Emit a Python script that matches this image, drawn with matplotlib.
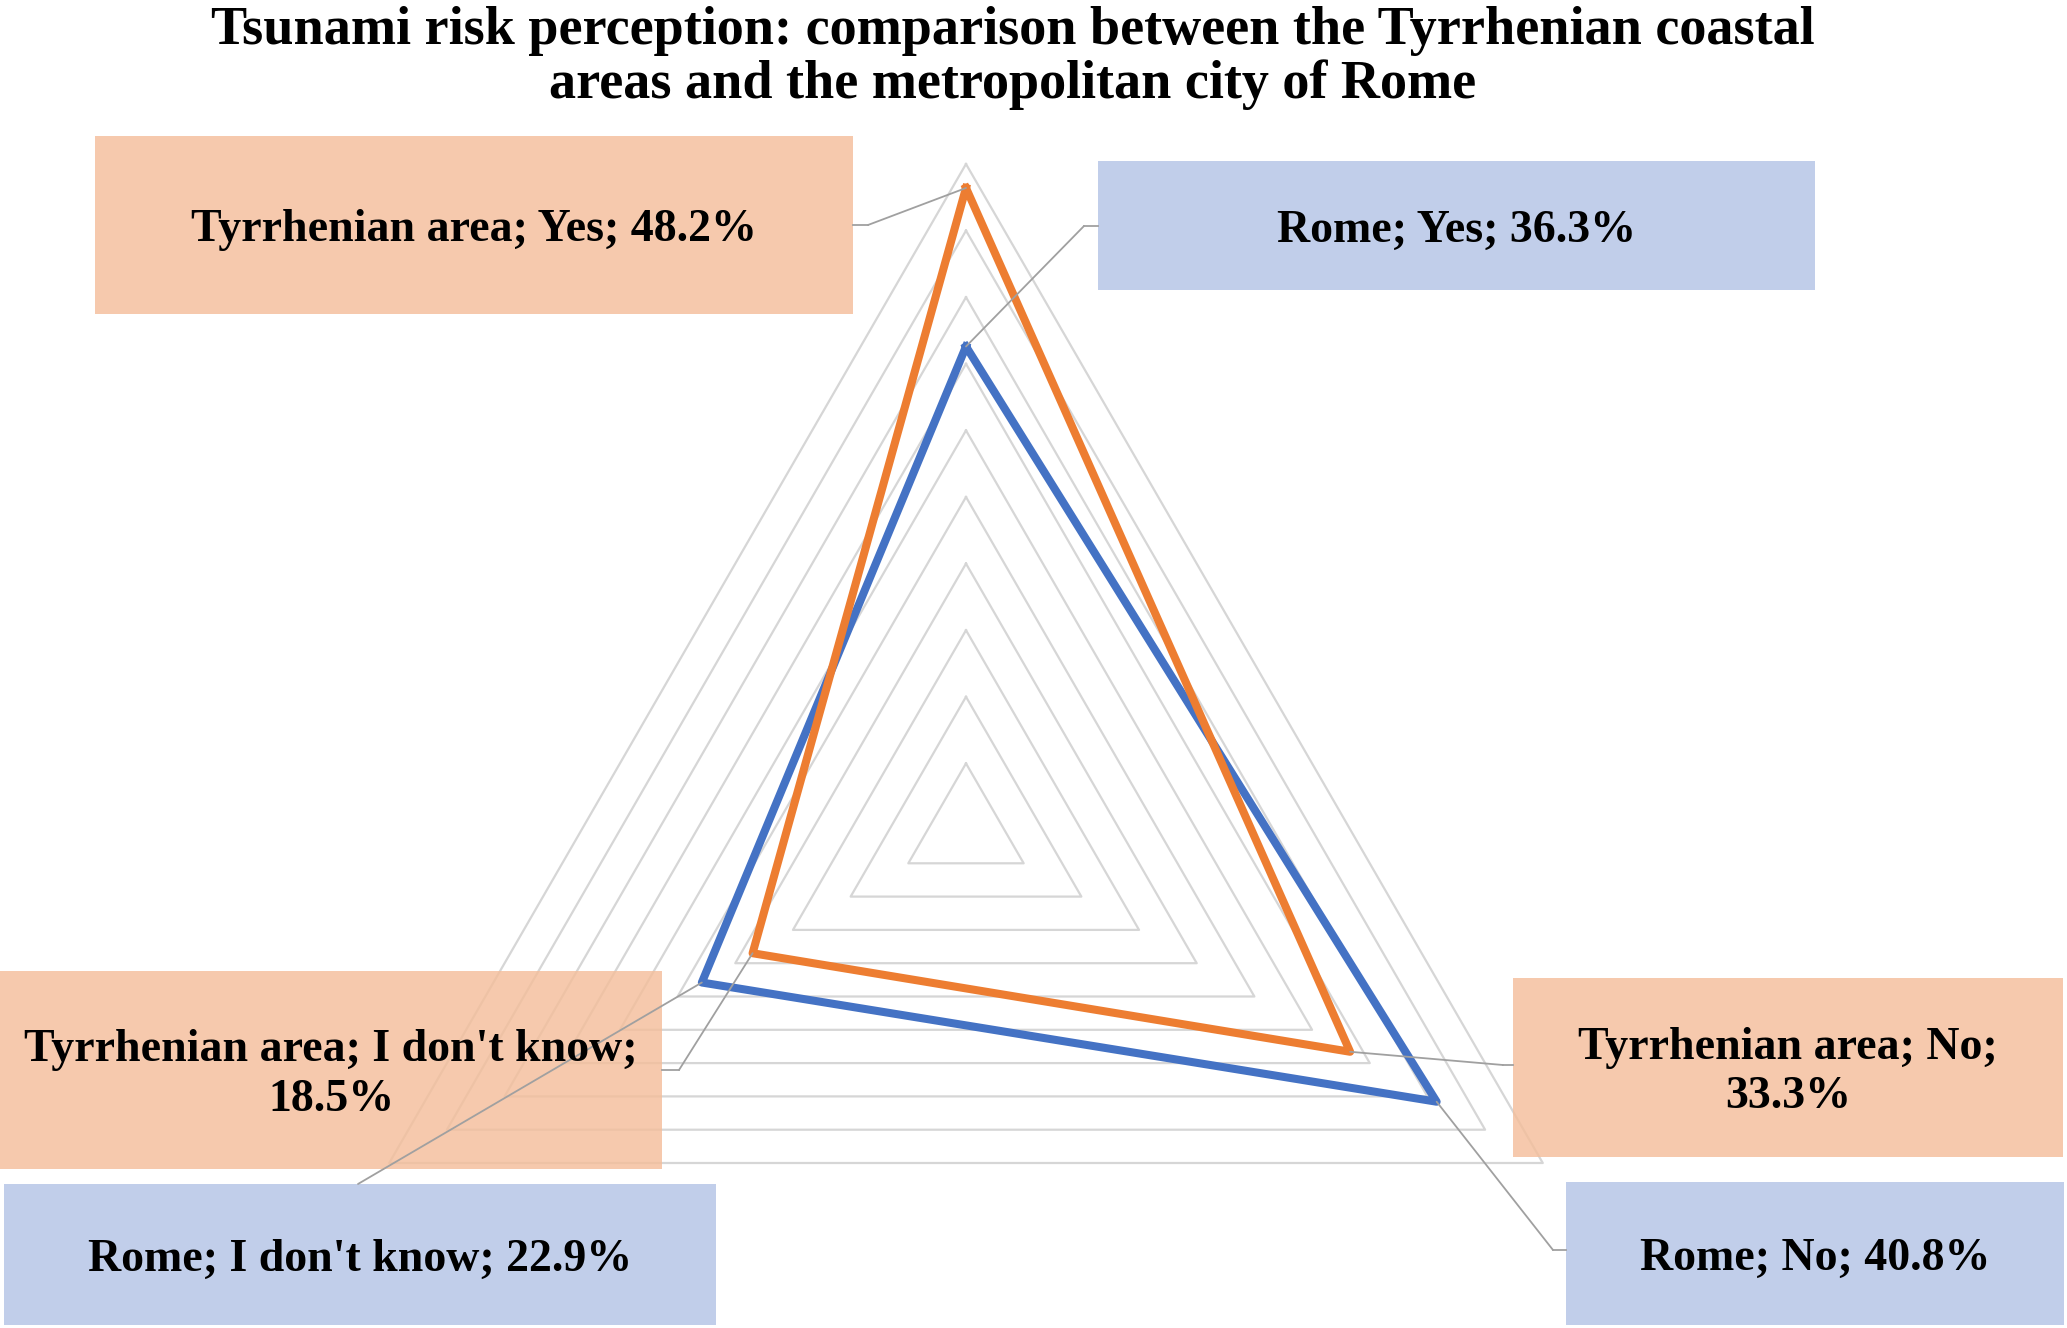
import numpy as np
import matplotlib
matplotlib.use("Agg")
import matplotlib.pyplot as plt
from matplotlib.patches import Rectangle, ConnectionPatch
from matplotlib.lines import Line2D

# --- datos ---
categories = ["Yes", "No", "I don't know"]
tyrrhenian = [48.2, 33.3, 18.5]
rome = [36.3, 40.8, 22.9]
series_names = ["Tyrrhenian area", "Rome"]
r_max = 50
r_step = 5

title = ("Tsunami risk perception: comparison between the Tyrrhenian coastal\n"
         "areas and the metropolitan city of Rome")

W, H = 2067, 1328
plt.rcParams['font.family'] = ['Liberation Serif', 'DejaVu Serif']

fig = plt.figure(figsize=(W / 100, H / 100), dpi=100)

def fx(x):
    return x / W

def fy(y):
    return 1 - y / H

# posicion del radar (centro y radio en pixeles)
cx, cy, R = 966, 830, 666
ax = fig.add_axes([fx(cx - R), fy(cy + R), 2 * R / W, 2 * R / H], projection='polar')
ax.set_theta_zero_location('N')
ax.set_theta_direction(-1)
ax.set_ylim(0, r_max)
ax.axis('off')

angles = np.arange(len(categories)) * 2 * np.pi / len(categories)
closed = np.append(angles, angles[0])

# rejilla triangular
for r in np.arange(r_step, r_max + 0.1, r_step):
    ax.plot(closed, [r] * len(closed), color='#D6D6D6', lw=1.6, clip_on=False, zorder=1)

colors = {"Tyrrhenian area": '#ED7D31', "Rome": '#4472C4'}
ax.plot(closed, rome + rome[:1], color=colors["Rome"], lw=5.8,
        solid_joinstyle='round', clip_on=False, zorder=2)
ax.plot(closed, tyrrhenian + tyrrhenian[:1], color=colors["Tyrrhenian area"], lw=5.8,
        solid_joinstyle='round', clip_on=False, zorder=3)

# --- etiquetas (cajas) ---
peach = (244 / 255, 190 / 255, 155 / 255)
blue = (180 / 255, 196 / 255, 230 / 255)

# (serie, indice, caja x0, y0, x1, y1, codo, texto)
labels = [
    ("Tyrrhenian area", 0, (95, 136, 853, 314), [(868, 225), (853, 225)],
     "Tyrrhenian area; Yes; 48.2%"),
    ("Rome", 0, (1098, 161, 1815, 290), [(1084, 226), (1098, 226)],
     "Rome; Yes; 36.3%"),
    ("Tyrrhenian area", 1, (1513, 978, 2063, 1157), [(1503, 1065), (1513, 1065)],
     "Tyrrhenian area; No;\n33.3%"),
    ("Rome", 1, (1566, 1182, 2064, 1325), [(1553, 1250), (1566, 1250)],
     "Rome; No; 40.8%"),
    ("Tyrrhenian area", 2, (0, 971, 662, 1169), [(679, 1070), (662, 1070)],
     "Tyrrhenian area; I don't know;\n18.5%"),
    ("Rome", 2, (4, 1184, 716, 1325), [(358, 1184)],
     "Rome; I don't know; 22.9%"),
]

for name, i, box, elbow, txt in labels:
    vals = tyrrhenian if name == "Tyrrhenian area" else rome
    x0, y0, x1, y1 = box
    fc = peach if name == "Tyrrhenian area" else blue
    rect = Rectangle((fx(x0), fy(y1)), (x1 - x0) / W, (y1 - y0) / H,
                     transform=fig.transFigure, facecolor=fc, edgecolor='none',
                     alpha=0.82, zorder=2)
    fig.add_artist(rect)

    ex, ey = elbow[0]
    con = ConnectionPatch(xyA=(angles[i], vals[i]), coordsA=ax.transData,
                          xyB=(fx(ex), fy(ey)), coordsB=fig.transFigure,
                          color='#A0A0A0', lw=1.3, zorder=5)
    fig.add_artist(con)
    if len(elbow) > 1:
        (ax_, ay_), (bx_, by_) = elbow
        fig.add_artist(Line2D([fx(ax_), fx(bx_)], [fy(ay_), fy(by_)],
                              transform=fig.transFigure, color='#A0A0A0',
                              lw=1.3, zorder=5))

    fig.text(fx((x0 + x1) / 2), fy((y0 + y1) / 2 + 5), txt, ha='center', va='center',
             fontsize=33, fontweight='bold', linespacing=1.22, zorder=6)

fig.text(0.49, fy(6), title, ha='center', va='top', fontsize=39,
         fontweight='bold', linespacing=1.08)

fig.savefig("out.png", dpi=100)
